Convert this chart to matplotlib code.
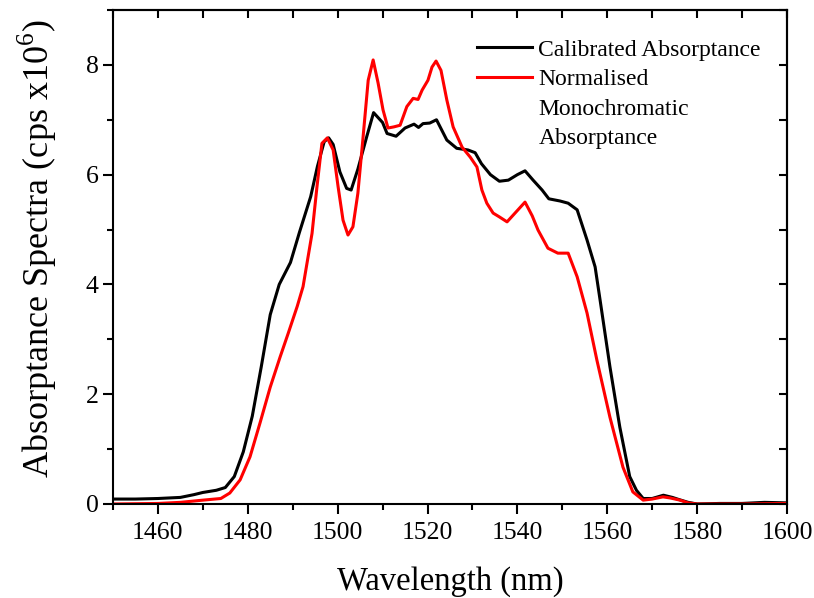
import matplotlib
matplotlib.use("Agg")
import matplotlib.pyplot as plt
from matplotlib.ticker import MultipleLocator

# calibrated absorptance (black)
wl_cal = [1450, 1455, 1460, 1465, 1468, 1470, 1473, 1475, 1477, 1479,
          1481, 1483, 1485, 1487, 1489.5, 1491.5, 1494, 1495.5, 1497, 1498,
          1499, 1500.5, 1502, 1503, 1504.5, 1506.5, 1508, 1510, 1511, 1513,
          1515, 1517, 1518, 1519, 1520.5, 1522, 1524.3, 1526.5, 1529, 1530.6,
          1532, 1534, 1536, 1538, 1540, 1541.7, 1543.5, 1545.5, 1547, 1549.5,
          1551.3, 1553.3, 1555.5, 1557.3, 1558.4, 1560.6, 1562.8, 1565, 1566.5, 1568,
          1570, 1572.5, 1574.5, 1576, 1578, 1580, 1585, 1590, 1595, 1600]
cal = [0.09, 0.09, 0.1, 0.12, 0.17, 0.21, 0.25, 0.3, 0.5, 0.95,
       1.6, 2.5, 3.45, 4.0, 4.4, 4.95, 5.6, 6.15, 6.6, 6.67,
       6.55, 6.05, 5.75, 5.72, 6.1, 6.7, 7.13, 6.95, 6.75, 6.7,
       6.85, 6.92, 6.86, 6.93, 6.94, 7.0, 6.63, 6.48, 6.45, 6.4,
       6.2, 6.0, 5.88, 5.9, 6.0, 6.07, 5.9, 5.72, 5.56, 5.52,
       5.48, 5.36, 4.81, 4.32, 3.72, 2.5, 1.4, 0.5, 0.25, 0.1,
       0.1, 0.16, 0.12, 0.08, 0.03, 0.0, 0.01, 0.01, 0.03, 0.02]

# normalised monochromatic absorptance (red)
wl_mono = [1450, 1460, 1465, 1470, 1474, 1476, 1478.3, 1480.5, 1482.7, 1485,
           1487.2, 1489, 1491, 1492.3, 1494.3, 1495.4, 1496.5, 1497.7, 1499, 1500.1,
           1501.2, 1502.3, 1503.4, 1504.5, 1505.6, 1506.8, 1507.9, 1509, 1510.1, 1511.2,
           1512.5, 1513.9, 1515.4, 1516.8, 1517.9, 1518.8, 1520.1, 1521, 1521.9, 1523,
           1524.3, 1525.7, 1527.7, 1529.5, 1531, 1532.1, 1533.2, 1534.6, 1536, 1537.7,
           1541.7, 1543.3, 1544.6, 1546.8, 1549, 1551.3, 1553.3, 1555.5, 1557.7,
           1560.6, 1563.5, 1565.7, 1568, 1570, 1572.4, 1574, 1576.2, 1578, 1580,
           1590, 1600]
mono = [0.0, 0.01, 0.03, 0.07, 0.1, 0.2, 0.44, 0.86, 1.47, 2.13,
        2.68, 3.11, 3.6, 3.96, 4.93, 5.78, 6.57, 6.67, 6.45, 5.78,
        5.17, 4.9, 5.05, 5.66, 6.63, 7.72, 8.09, 7.67, 7.18, 6.85,
        6.87, 6.9, 7.24, 7.39, 7.37, 7.54, 7.72, 7.96, 8.07, 7.9,
        7.36, 6.87, 6.5, 6.32, 6.14, 5.72, 5.48, 5.3, 5.23, 5.14,
        5.5, 5.25, 4.99, 4.66, 4.57, 4.57, 4.14, 3.48, 2.62,
        1.58, 0.67, 0.22, 0.07, 0.09, 0.13, 0.11, 0.07, 0.02, 0.0,
        0.0, 0.01]

# legend: the red entry's label is split over three lines,
# with the line marker next to the first one only
cal_label = "Calibrated Absorptance"
mono_label = ["Normalised", "Monochromatic", "Absorptance"]

plt.rcParams["font.family"] = ["Liberation Serif", "DejaVu Serif"]
plt.rcParams["mathtext.fontset"] = "custom"
plt.rcParams["mathtext.rm"] = "Liberation Serif"

fig = plt.figure(figsize=(8.14, 5.98), dpi=100)
ax = fig.add_axes([0.1388, 0.1572, 0.828, 0.8261])

ax.plot(wl_cal, cal, color="black", lw=2.2, label=cal_label)
ax.plot(wl_mono, mono, color="red", lw=2.2, label=mono_label[0])

ax.set_xlim(1450, 1600)
ax.set_ylim(0, 9)
ax.xaxis.set_major_locator(MultipleLocator(20))
ax.xaxis.set_minor_locator(MultipleLocator(10))
ax.yaxis.set_major_locator(MultipleLocator(2))
ax.yaxis.set_minor_locator(MultipleLocator(1))
ax.tick_params(which="major", direction="out", length=7, width=1.5, labelsize=18.5)
ax.tick_params(axis="x", which="major", pad=6)
ax.tick_params(which="minor", direction="out", length=4, width=1.5)

for s in ax.spines.values():
    s.set_linewidth(1.5)

# inward ticks on top and right
top = ax.secondary_xaxis("top")
top.xaxis.set_major_locator(MultipleLocator(10))
top.tick_params(direction="in", length=6, width=1.5, labeltop=False)
right = ax.secondary_yaxis("right")
right.yaxis.set_major_locator(MultipleLocator(1))
right.tick_params(direction="in", length=6, width=1.5, labelright=False)
top.spines["top"].set_linewidth(1.5)
right.spines["right"].set_linewidth(1.5)

ax.set_xlabel("Wavelength (nm)", fontsize=23.5, labelpad=16)
ax.set_ylabel(r"Absorptance Spectra (cps x10$^{6}$)", fontsize=26)
ax.yaxis.set_label_coords(-0.08, 0.516)

leg = ax.legend(loc="upper left", bbox_to_anchor=(0.526, 0.96), frameon=False,
                fontsize=17, handlelength=2.35, handletextpad=0.25,
                labelspacing=0.33, borderaxespad=0)
leg.set_zorder(5)

# remaining lines of the red label, stacked under "Normalised"
# (drawn after the legend so its text position is known)
prev = leg.get_texts()[1]
for line in mono_label[1:]:
    prev = ax.annotate(line, xy=(0, 0), xycoords=prev, xytext=(0, -29.5),
                       textcoords="offset pixels", fontsize=17,
                       ha="left", va="bottom", zorder=6)

fig.savefig("out.png", dpi=100)
